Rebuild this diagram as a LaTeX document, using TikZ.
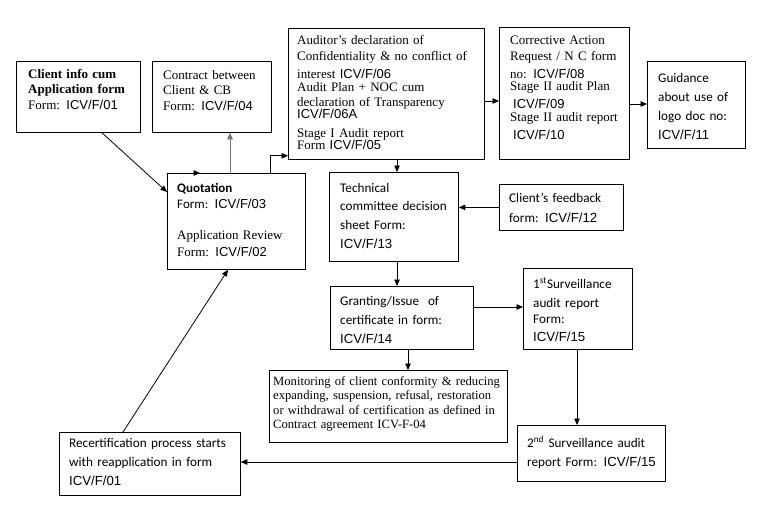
\documentclass[tikz,border=0pt]{standalone}
\usepackage{fontspec}
\setmainfont{Liberation Serif}
\newfontfamily\cbf{Carlito}
\newfontfamily\arf{Liberation Sans}
\usetikzlibrary{arrows.meta}
\newcommand\ICV[1]{{\arf #1}}
\begin{document}
\begin{tikzpicture}[x=1pt,y=-1pt,
  box/.style={draw, line width=0.8pt, anchor=north west, inner sep=0pt},
  txt/.style={anchor=base west, inner sep=0pt, align=left, text width=245pt},
  serif/.style={font=\fontsize{13}{15.5}\selectfont},
  sans/.style={font=\cbf\fontsize{13.2}{19}\selectfont},
  arr/.style={line width=0.8pt, -{Triangle[length=6.5pt,width=5.5pt]}}]
\useasboundingbox[fill=white] (0,0) rectangle (762,506);
% boxes
\node[box, minimum width=124pt, minimum height=71pt] (ci) at (16,61) {};
\node[box, minimum width=119pt, minimum height=71pt] (ct) at (152,61) {};
\node[box, minimum width=196pt, minimum height=131pt] (au) at (288,28) {};
\node[box, minimum width=130pt, minimum height=132pt] (co) at (499,27) {};
\node[box, minimum width=98pt, minimum height=87pt] (gu) at (647,61) {};
\node[box, minimum width=138pt, minimum height=96pt] (q) at (167,173) {};
\node[box, minimum width=129pt, minimum height=89pt] (tc) at (329,172) {};
\node[box, minimum width=124pt, minimum height=46pt] (fb) at (499,184) {};
\node[box, minimum width=143pt, minimum height=63pt] (gr) at (330,286) {};
\node[box, minimum width=109pt, minimum height=81pt] (s1) at (523,268) {};
\node[box, minimum width=238pt, minimum height=72pt] (mo) at (269,370) {};
\node[box, minimum width=181pt, minimum height=63pt] (rc) at (59,432) {};
\node[box, minimum width=148pt, minimum height=56pt] (s2) at (517,425) {};
% texts
\node[txt, serif] (ciT) at (28,78) {\textbf{Client info cum}\\\textbf{Application form}\\Form: \ICV{ICV/F/01}};
\node[txt, serif] (ctT) at (163,79) {Contract between\\Client \& CB\\Form: \ICV{ICV/F/04}};
\node[txt, serif, font=\fontsize{13}{15}\selectfont] (auT) at (297,44) {Auditor’s declaration of\\[1pt]Confidentiality \& no conflict of\\[3pt]interest \ICV{ICV/F/06}\\[-2pt]Audit Plan + NOC cum\\declaration of Transparency\\[-2.5pt]\ICV{ICV/F/06A}\\[3.5pt]Stage I Audit report\\[-2.5pt]Form \ICV{ICV/F/05}};
\node[txt, serif, font=\fontsize{13}{15}\selectfont] (coT) at (510,44) {Corrective Action\\[1pt]Request / N C form\\[3pt]no: \ICV{ICV/F/08}\\[-2.5pt]Stage II audit Plan\\[3pt]\hspace*{3pt}\ICV{ICV/F/09}\\[-2pt]Stage II audit report\\[3pt]\hspace*{3pt}\ICV{ICV/F/10}};
\node[txt, sans] (guT) at (658,82) {Guidance\\about use of\\logo doc no:\\\ICV{ICV/F/11}};
\node[txt, font=\fontsize{13}{16}\selectfont] (qT) at (177,192) {{\cbf\bfseries Quotation}\\{\cbf Form: }\ICV{ICV/F/03}\\[15pt]Application Review\\[1pt]Form: \ICV{ICV/F/02}};
\node[txt, sans, font=\cbf\fontsize{13.2}{18.7}\selectfont] (tcT) at (340,192) {Technical\\committee decision\\sheet Form:\\\ICV{ICV/F/13}};
\node[txt, sans, font=\cbf\fontsize{13.2}{20}\selectfont] (fbT) at (509,202) {Client’s feedback\\form: \ICV{ICV/F/12}};
\node[txt, sans] (grT) at (340,305) {Granting/Issue\ \ of\\certificate in form:\\\ICV{ICV/F/14}};
\node[txt, sans, font=\cbf\fontsize{13.2}{18}\selectfont] (s1T) at (533,288) {1\textsuperscript{st}Surveillance\\[1pt]audit report\\[-2pt]Form:\\\ICV{ICV/F/15}};
\node[txt, serif, font=\fontsize{12.6}{14.5}\selectfont] (moT) at (273,385) {Monitoring of client conformity \& reducing\\expanding, suspension, refusal, restoration\\or withdrawal of certification as defined in\\Contract agreement ICV-F-04};
\node[txt, sans] (rcT) at (69,447) {Recertification process starts\\with reapplication in form\\\ICV{ICV/F/01}};
\node[txt, sans] (s2T) at (527,447) {2\textsuperscript{nd} Surveillance audit\\report Form: \ICV{ICV/F/15}};
% connectors
\draw[arr] ([xshift=86pt]ci.south west) -- ([yshift=-19pt]q.north west);
\draw[arr, draw=black!55, fill=black] ([xshift=63pt]q.north west) coordinate (p1) -- (p1 |- ct.south);
\draw[arr] ([xshift=103pt]q.north west) |- ([yshift=4pt]au.south west);
\draw[arr] ([xshift=25pt]q.north west) coordinate (p0) -- ([xshift=33pt]q.north west);
\draw[arr] ([yshift=-73pt]au.north east) coordinate (p2) -- (p2 -| co.west);
\draw[arr] ([yshift=-77pt]co.north east) coordinate (p3) -- (p3 -| gu.west);
\draw[arr] ([xshift=109pt]au.south west) coordinate (p4) -- (p4 |- tc.north);
\draw[arr] (fb.west) -- (fb.west -| tc.east);
\draw[arr] ([xshift=68pt]tc.south west) coordinate (p5) -- (p5 |- gr.north);
\draw[arr] ([yshift=-21pt]gr.north east) coordinate (p6) -- (p6 -| s1.west);
\draw[arr] ([xshift=78pt]gr.south west) coordinate (p7) -- (p7 |- mo.north);
\draw[arr] ([xshift=54pt]s1.south west) coordinate (p8) -- (p8 |- s2.north);
\draw[arr] ([yshift=-37pt]s2.north west) coordinate (p9) -- (p9 -| rc.east);
\draw[arr] ([xshift=64pt]rc.north west) -- ([xshift=61pt]q.south west);
\end{tikzpicture}
\end{document}
